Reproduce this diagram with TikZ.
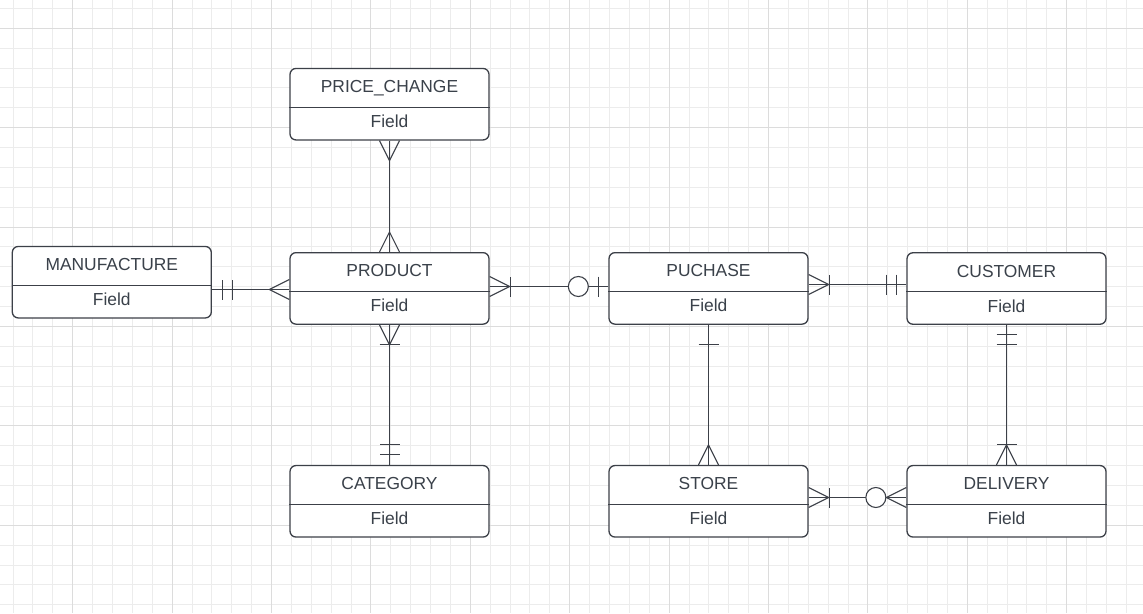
\documentclass[tikz,border=0pt]{standalone}
\usepackage{fontspec}
\setmainfont{Liberation Sans}
\usetikzlibrary{calc}
\definecolor{ln}{RGB}{60,64,72}
\definecolor{tx}{RGB}{58,65,74}
\definecolor{gmin}{RGB}{236,236,236}
\definecolor{gmaj}{RGB}{220,220,220}
\tikzset{
  entity/.style={draw=ln, line width=1.3pt, rounded corners=6pt, minimum width=199pt, minimum height=71.5pt, inner sep=0pt, fill=white},
  lbl/.style={text=tx, font=\fontsize{17.4}{20}\selectfont, anchor=base, inner sep=0pt},
  conn/.style={draw=ln, line width=1.1pt},
  gridmin/.style={draw=gmin, line width=1pt},
  gridmaj/.style={draw=gmaj, line width=1pt},
  pics/crow/.style={code={\draw[conn] (0,10)--(20,0)--(0,-10);}},
  pics/barat/.style={code={\draw[conn] (#1,10)--(#1,-10);}},
  pics/ringat/.style={code={\draw[conn,fill=white] (#1,0) circle[radius=10];}},
}
\newcommand\erentity[4]{%
  \node[entity] (#1) at (#2,#3) {};
  \draw[draw=ln, line width=1.3pt] ($(#1.north west)+(0,39.6)$) -- ($(#1.north east)+(0,39.6)$);
  \node[lbl] (#1-t) at ($(#1.center)+(0,-11.5)$) {#4};
  \node[lbl] (#1-f) at ($(#1.center)+(0,23.5)$) {Field};
}
\begin{document}
\begin{tikzpicture}[x=1pt,y=-1pt]
\fill[white] (0,0) rectangle (1143,613);
\useasboundingbox (0,0) rectangle (1143,613);
% grid
\foreach \i in {0,...,57} \draw[gridmin] ({13.1+19.88*\i},0) -- ({13.1+19.88*\i},613);
\foreach \i in {0,...,31} \draw[gridmin] (0,{8.4+19.88*\i}) -- (1143,{8.4+19.88*\i});
\foreach \i in {0,...,10} \draw[gridmaj] ({72.7+99.4*\i},0) -- ({72.7+99.4*\i},613);
\foreach \i in {0,...,5} \draw[gridmaj] (0,{28.3+99.4*\i}) -- (1143,{28.3+99.4*\i});

% entities
\erentity{manu}{111.8}{282.2}{MANUFACTURE}
\erentity{prod}{389.5}{288.4}{PRODUCT}
\erentity{pc}{389.5}{104.2}{PRICE\_CHANGE}
\erentity{cat}{389.5}{501.3}{CATEGORY}
\erentity{purch}{708.5}{288.4}{PUCHASE}
\erentity{cust}{1006.5}{288.5}{CUSTOMER}
\erentity{store}{708.5}{501.3}{STORE}
\erentity{deliv}{1006.5}{501.3}{DELIVERY}

% 1 manufacture - product
\coordinate (c1b) at ($(prod.west)+(0,1.1)$);
\coordinate (c1a) at (manu.east |- c1b);
\draw[conn] (c1a) -- (c1b);
\path (c1a) pic{barat=10.4} pic{barat=20.4};
\path (c1b) pic[rotate=180]{crow};

% 2 product - puchase
\coordinate (c2a) at ($(prod.east)+(0,-1.9)$);
\coordinate (c2b) at (purch.west |- c2a);
\draw[conn] (c2a) -- (c2b);
\path (c2a) pic{crow} pic{barat=21};
\path (c2b) pic[rotate=180]{barat=10} pic[rotate=180]{ringat=30};

% 3 price_change - product
\draw[conn] (pc.south) -- (prod.north);
\path (pc.south) pic[rotate=-90]{crow};
\path (prod.north) pic[rotate=90]{crow};

% 4 product - category
\draw[conn] (prod.south) -- (cat.north);
\path (prod.south) pic[rotate=-90]{crow} pic[rotate=-90]{barat=19.5};
\path (cat.north) pic[rotate=90]{barat=10.7} pic[rotate=90]{barat=20.7};

% 5 puchase - customer
\coordinate (c5a) at ($(purch.east)+(0,-3.9)$);
\coordinate (c5b) at (cust.west |- c5a);
\draw[conn] (c5a) -- (c5b);
\path (c5a) pic{crow} pic{barat=21};
\path (c5b) pic[rotate=180]{barat=10} pic[rotate=180]{barat=20};

% 6 customer - delivery
\draw[conn] (cust.south) -- (deliv.north);
\path (cust.south) pic[rotate=-90]{barat=10} pic[rotate=-90]{barat=20};
\path (deliv.north) pic[rotate=90]{crow} pic[rotate=90]{barat=20.7};

% 7 puchase - store
\draw[conn] (purch.south) -- (store.north);
\path (purch.south) pic[rotate=-90]{barat=20};
\path (store.north) pic[rotate=90]{crow};

% 8 store - delivery
\coordinate (c8a) at ($(store.east)+(0,-3.8)$);
\coordinate (c8b) at (deliv.west |- c8a);
\draw[conn] (c8a) -- (c8b);
\path (c8a) pic{crow} pic{barat=21};
\path (c8b) pic[rotate=180]{crow} pic[rotate=180]{ringat=30.5};
\end{tikzpicture}
\end{document}
